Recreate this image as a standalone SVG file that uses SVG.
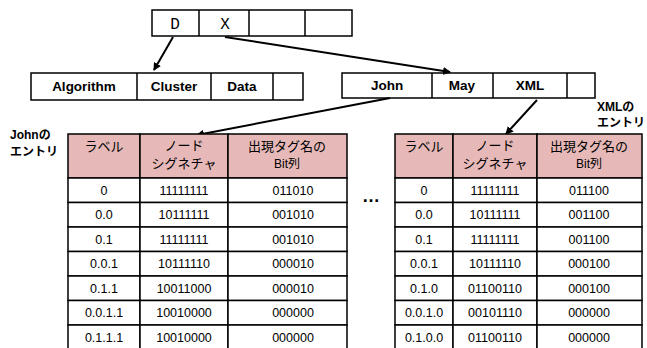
<svg xmlns="http://www.w3.org/2000/svg" width="647" height="348" viewBox="0 0 647 348">
<defs>
<style>
.box{fill:#fff;stroke:#000;stroke-width:1.5}
.hd{fill:#E6B9B8;stroke:#000;stroke-width:1.5}
.cl{fill:#fff;stroke:#000;stroke-width:1.5}
.mono{font-family:"Liberation Mono","DejaVu Sans Mono",monospace;font-size:16px;text-anchor:middle}
.bl{font-family:"Liberation Sans","Noto Sans CJK JP",sans-serif;font-weight:bold;font-size:13.5px;text-anchor:middle}
.lab{font-family:"Liberation Sans","Noto Sans CJK JP",sans-serif;font-weight:bold;font-size:12px}
.jh{font-family:"Noto Sans CJK JP",sans-serif;font-size:13px;text-anchor:middle}
.sm{font-family:"Liberation Sans","Noto Sans CJK JP",sans-serif;font-size:12px;text-anchor:middle}
.td{font-family:"Liberation Sans",sans-serif;font-size:12.5px;text-anchor:middle}
.con{stroke:#000;stroke-width:2;fill:none;marker-end:url(#ah)}
</style>
<marker id="ah" markerWidth="8" markerHeight="8" refX="7" refY="4" orient="auto" markerUnits="userSpaceOnUse">
<path d="M0,0 L8,4 L0,8 z" fill="#000"/>
</marker>
</defs>

<g id="top-array">
<rect class="box" x="152" y="10" width="200" height="26"/>
<line x1="199" y1="10" x2="199" y2="36" stroke="#000" stroke-width="1.5"/>
<line x1="249" y1="10" x2="249" y2="36" stroke="#000" stroke-width="1.5"/>
<line x1="305" y1="10" x2="305" y2="36" stroke="#000" stroke-width="1.5"/>
<text class="mono" x="175" y="29">D</text>
<text class="mono" x="225" y="29">X</text>
</g>

<g id="d-list">
<rect class="box" x="31" y="73" width="272" height="27"/>
<line x1="137" y1="73" x2="137" y2="100" stroke="#000" stroke-width="1.5"/>
<line x1="211" y1="73" x2="211" y2="100" stroke="#000" stroke-width="1.5"/>
<line x1="273" y1="73" x2="273" y2="100" stroke="#000" stroke-width="1.5"/>
<text class="bl" x="84" y="91">Algorithm</text>
<text class="bl" x="174" y="91">Cluster</text>
<text class="bl" x="242" y="91">Data</text>
</g>

<g id="x-list">
<rect class="box" x="342" y="73" width="253" height="25"/>
<line x1="432" y1="73" x2="432" y2="98" stroke="#000" stroke-width="1.5"/>
<line x1="493" y1="73" x2="493" y2="98" stroke="#000" stroke-width="1.5"/>
<line x1="567" y1="73" x2="567" y2="98" stroke="#000" stroke-width="1.5"/>
<text class="bl" x="387" y="90">John</text>
<text class="bl" x="462" y="90">May</text>
<text class="bl" x="530" y="90">XML</text>
</g>

<g id="connectors">
<line class="con" x1="173" y1="37" x2="154" y2="70"/>
<line class="con" x1="225" y1="37" x2="450" y2="72"/>
<line class="con" x1="390" y1="98" x2="197" y2="135"/>
<line class="con" x1="537" y1="100" x2="506" y2="134"/>
</g>

<g id="john-label">
<text class="lab" x="10" y="139">Johnの</text>
<text class="lab" x="10" y="156">エントリ</text>
</g>

<g id="xml-label">
<text class="lab" x="597" y="111">XMLの</text>
<text class="lab" x="597" y="127">エントリ</text>
</g>

<g id="john-table">
<rect class="hd" x="68" y="134" width="72" height="44"/>
<rect class="hd" x="140" y="134" width="88" height="44"/>
<rect class="hd" x="228" y="134" width="119" height="44"/>
<text class="jh" x="104" y="151">ラベル</text>
<text class="jh" x="184" y="150">ノード</text>
<text class="jh" x="184" y="168">シグネチャ</text>
<text class="jh" x="287" y="151">出現タグ名の</text>
<text class="sm" x="287" y="168">Bit列</text>
<g>
<rect class="cl" x="68" y="178" width="72" height="24.5"/><rect class="cl" x="140" y="178" width="88" height="24.5"/><rect class="cl" x="228" y="178" width="119" height="24.5"/>
<rect class="cl" x="68" y="202.5" width="72" height="24.5"/><rect class="cl" x="140" y="202.5" width="88" height="24.5"/><rect class="cl" x="228" y="202.5" width="119" height="24.5"/>
<rect class="cl" x="68" y="227" width="72" height="24.5"/><rect class="cl" x="140" y="227" width="88" height="24.5"/><rect class="cl" x="228" y="227" width="119" height="24.5"/>
<rect class="cl" x="68" y="251.5" width="72" height="24.5"/><rect class="cl" x="140" y="251.5" width="88" height="24.5"/><rect class="cl" x="228" y="251.5" width="119" height="24.5"/>
<rect class="cl" x="68" y="276" width="72" height="24.5"/><rect class="cl" x="140" y="276" width="88" height="24.5"/><rect class="cl" x="228" y="276" width="119" height="24.5"/>
<rect class="cl" x="68" y="300.5" width="72" height="24.5"/><rect class="cl" x="140" y="300.5" width="88" height="24.5"/><rect class="cl" x="228" y="300.5" width="119" height="24.5"/>
<rect class="cl" x="68" y="325" width="72" height="26"/><rect class="cl" x="140" y="325" width="88" height="26"/><rect class="cl" x="228" y="325" width="119" height="26"/>
</g>
<text class="td" x="104" y="195">0</text><text class="td" x="184" y="195">11111111</text><text class="td" x="293" y="195">011010</text>
<text class="td" x="104" y="219">0.0</text><text class="td" x="184" y="219">10111111</text><text class="td" x="293" y="219">001010</text>
<text class="td" x="104" y="244">0.1</text><text class="td" x="184" y="244">11111111</text><text class="td" x="293" y="244">001010</text>
<text class="td" x="104" y="268">0.0.1</text><text class="td" x="184" y="268">10111110</text><text class="td" x="293" y="268">000010</text>
<text class="td" x="104" y="293">0.1.1</text><text class="td" x="184" y="293">10011000</text><text class="td" x="293" y="293">000010</text>
<text class="td" x="104" y="317">0.0.1.1</text><text class="td" x="184" y="317">10010000</text><text class="td" x="293" y="317">000000</text>
<text class="td" x="104" y="342">0.1.1.1</text><text class="td" x="184" y="342">10010000</text><text class="td" x="293" y="342">000000</text>
</g>

<g id="ellipsis">
<text x="371" y="202" style="font-family:'Liberation Sans',sans-serif;font-size:18px;font-weight:bold;text-anchor:middle">…</text>
</g>

<g id="xml-table">
<rect class="hd" x="395" y="134" width="58" height="44"/>
<rect class="hd" x="453" y="134" width="84" height="44"/>
<rect class="hd" x="537" y="134" width="105" height="44"/>
<text class="jh" x="424" y="151">ラベル</text>
<text class="jh" x="495" y="150">ノード</text>
<text class="jh" x="495" y="168">シグネチャ</text>
<text class="jh" x="589" y="151">出現タグ名の</text>
<text class="sm" x="589" y="168">Bit列</text>
<g>
<rect class="cl" x="395" y="178" width="58" height="24.5"/><rect class="cl" x="453" y="178" width="84" height="24.5"/><rect class="cl" x="537" y="178" width="105" height="24.5"/>
<rect class="cl" x="395" y="202.5" width="58" height="24.5"/><rect class="cl" x="453" y="202.5" width="84" height="24.5"/><rect class="cl" x="537" y="202.5" width="105" height="24.5"/>
<rect class="cl" x="395" y="227" width="58" height="24.5"/><rect class="cl" x="453" y="227" width="84" height="24.5"/><rect class="cl" x="537" y="227" width="105" height="24.5"/>
<rect class="cl" x="395" y="251.5" width="58" height="24.5"/><rect class="cl" x="453" y="251.5" width="84" height="24.5"/><rect class="cl" x="537" y="251.5" width="105" height="24.5"/>
<rect class="cl" x="395" y="276" width="58" height="24.5"/><rect class="cl" x="453" y="276" width="84" height="24.5"/><rect class="cl" x="537" y="276" width="105" height="24.5"/>
<rect class="cl" x="395" y="300.5" width="58" height="24.5"/><rect class="cl" x="453" y="300.5" width="84" height="24.5"/><rect class="cl" x="537" y="300.5" width="105" height="24.5"/>
<rect class="cl" x="395" y="325" width="58" height="26"/><rect class="cl" x="453" y="325" width="84" height="26"/><rect class="cl" x="537" y="325" width="105" height="26"/>
</g>
<text class="td" x="424" y="195">0</text><text class="td" x="495" y="195">11111111</text><text class="td" x="589" y="195">011100</text>
<text class="td" x="424" y="219">0.0</text><text class="td" x="495" y="219">10111111</text><text class="td" x="589" y="219">001100</text>
<text class="td" x="424" y="244">0.1</text><text class="td" x="495" y="244">11111111</text><text class="td" x="589" y="244">001100</text>
<text class="td" x="424" y="268">0.0.1</text><text class="td" x="495" y="268">10111110</text><text class="td" x="589" y="268">000100</text>
<text class="td" x="424" y="293">0.1.0</text><text class="td" x="495" y="293">01100110</text><text class="td" x="589" y="293">000100</text>
<text class="td" x="424" y="317">0.0.1.0</text><text class="td" x="495" y="317">00101110</text><text class="td" x="589" y="317">000000</text>
<text class="td" x="424" y="342">0.1.0.0</text><text class="td" x="495" y="342">01100110</text><text class="td" x="589" y="342">000000</text>
</g>
</svg>
